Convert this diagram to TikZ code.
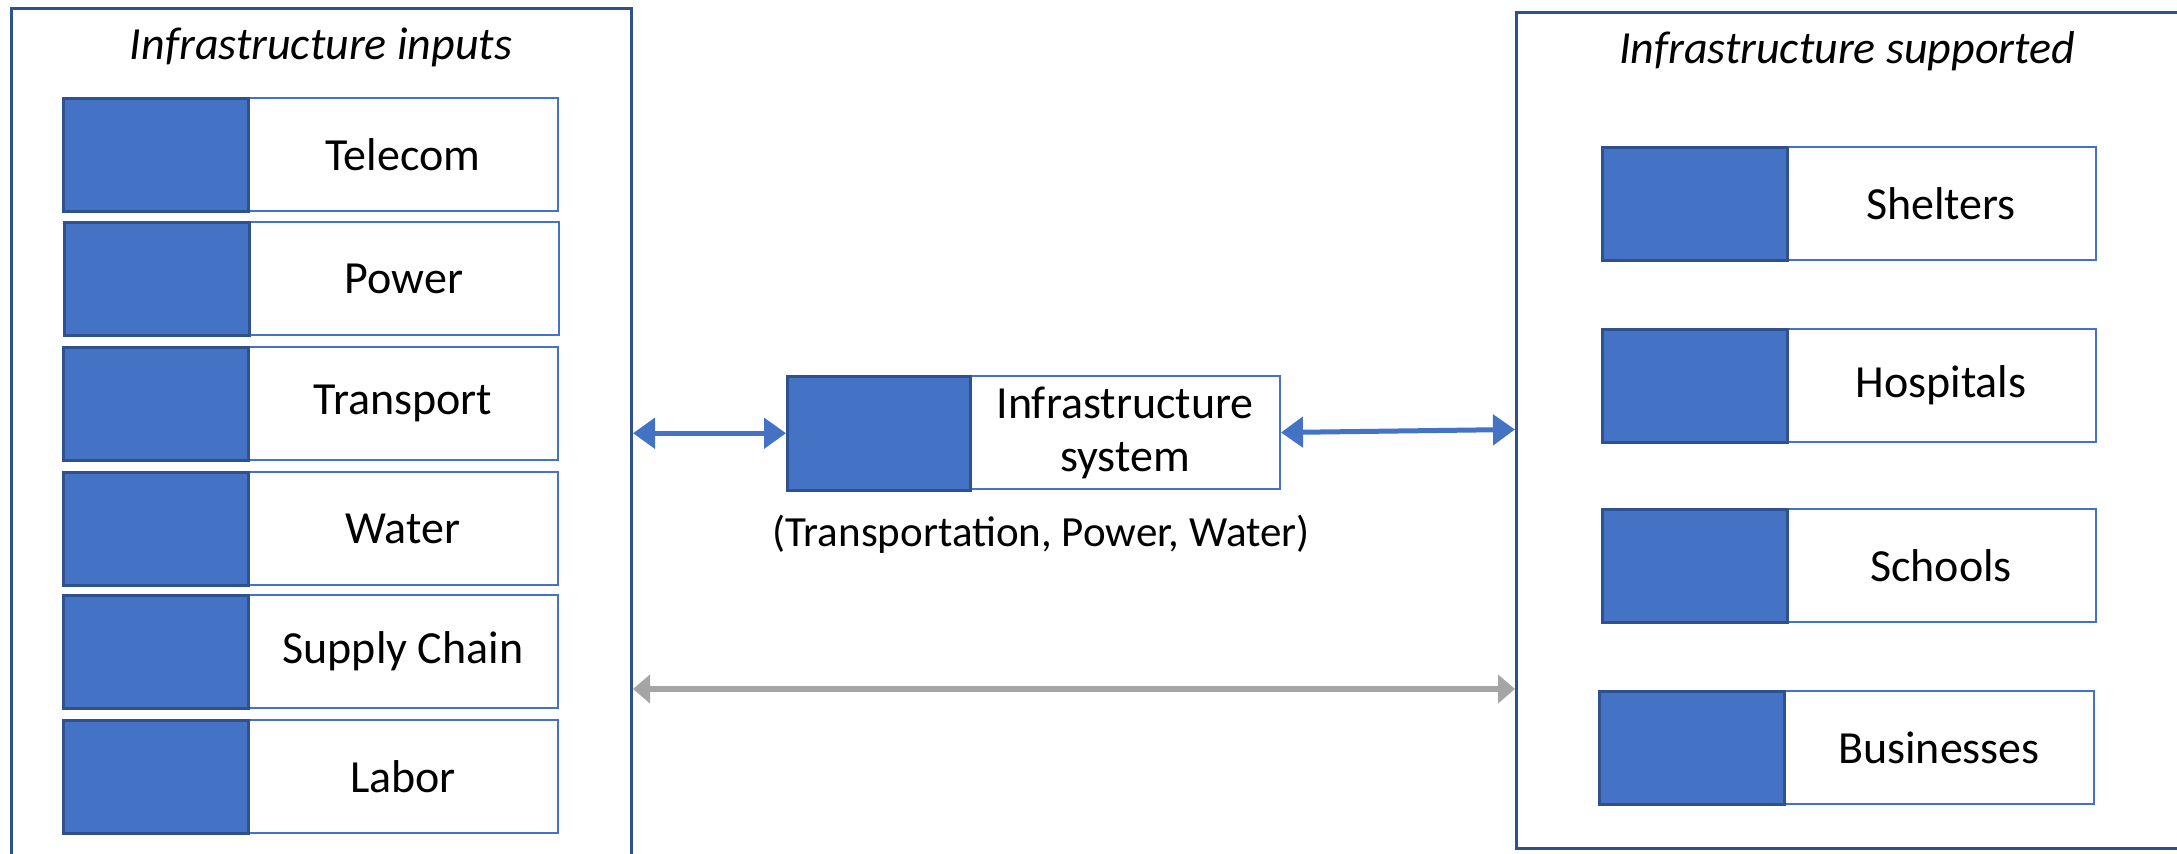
\documentclass[tikz,border=0pt]{standalone}
\usepackage{fontspec}
\setmainfont{Carlito}
\usetikzlibrary{arrows.meta,calc}
\definecolor{accent}{HTML}{4472C4}
\definecolor{accentdark}{HTML}{2F528F}
\definecolor{arrowgray}{HTML}{A5A5A5}
\begin{document}
\begin{tikzpicture}[x=1pt,y=-1pt,
  font=\fontsize{46}{55}\selectfont,
  container/.style={draw=accentdark, line width=3pt, anchor=north west, inner sep=0pt},
  fillbox/.style={draw=accentdark, fill=accent, line width=2.5pt, anchor=north west,
    minimum width=185pt, minimum height=113pt, inner sep=0pt},
  labelbox/.style={draw=accent, fill=white, line width=2pt, anchor=north west,
    minimum width=310pt, minimum height=113pt, inner sep=0pt, align=center},
  titletext/.style={font=\fontsize{46}{55}\selectfont\itshape},
  bluearrow/.style={draw=accent, line width=5pt, {Triangle[length=22pt,width=30pt]}-{Triangle[length=22pt,width=30pt]}},
  grayarrow/.style={draw=arrowgray, line width=5.5pt, {Triangle[length=17pt,width=28pt]}-{Triangle[length=17pt,width=28pt]}}
]
\useasboundingbox (0,0) rectangle (2177,854);
\clip (0,0) rectangle (2177,854);
\fill[white] (0,0) rectangle (2177,854);

% containers
\node[container, minimum width=620pt, minimum height=900pt] (inputs) at (10,7) {};
\node[container, minimum width=700pt, minimum height=836pt] (supp) at (1515,11) {};
\node[titletext] (tin) at (321,47) {Infrastructure inputs};
\node[titletext] (tsup) at (1847,51) {Infrastructure supported};

% left items
\node[labelbox] (tel) at (247,97) {Telecom};
\node[fillbox] (telB) at (62,97) {};
\node[labelbox] (pow) at (248,221) {Power};
\node[fillbox] (powB) at (63,221) {};
\node[labelbox] (tra) at (247,346) {Transport};
\node[fillbox] (traB) at (62,346) {};
\node[labelbox] (wat) at (247,471) {Water};
\node[fillbox] (watB) at (62,471) {};
\node[labelbox] (sup) at (247,594) {Supply Chain};
\node[fillbox] (supB) at (62,594) {};
\node[labelbox] (lab) at (247,719) {Labor};
\node[fillbox] (labB) at (62,719) {};

% center system
\node[labelbox, font=\fontsize{46}{53}\selectfont] (sys) at (969,375) {Infrastructure\\system};
\node[fillbox, minimum width=183pt, minimum height=114pt] (sysB) at (786,375) {};
\node[font=\fontsize{43}{52}\selectfont] (cap) at (1041,534) {(Transportation, Power, Water)};

% right items
\node[labelbox] (shel) at (1785,146) {Shelters};
\node[fillbox] (shelB) at (1601,146) {};
\node[labelbox] (hosp) at (1785,328) {Hospitals};
\node[fillbox] (hospB) at (1601,328) {};
\node[labelbox] (sch) at (1785,508) {Schools};
\node[fillbox] (schB) at (1601,508) {};
\node[labelbox] (bus) at (1783,690) {Businesses};
\node[fillbox] (busB) at (1598,690) {};

% connectors
\draw[bluearrow] (sysB.west -| inputs.east) -- (sysB.west);
\draw[bluearrow] (sys.east) -- ([yshift=3pt]sys.east -| supp.west);
\coordinate (g) at (0,689);
\draw[grayarrow] (g -| inputs.east) -- (g -| supp.west);
\end{tikzpicture}
\end{document}
